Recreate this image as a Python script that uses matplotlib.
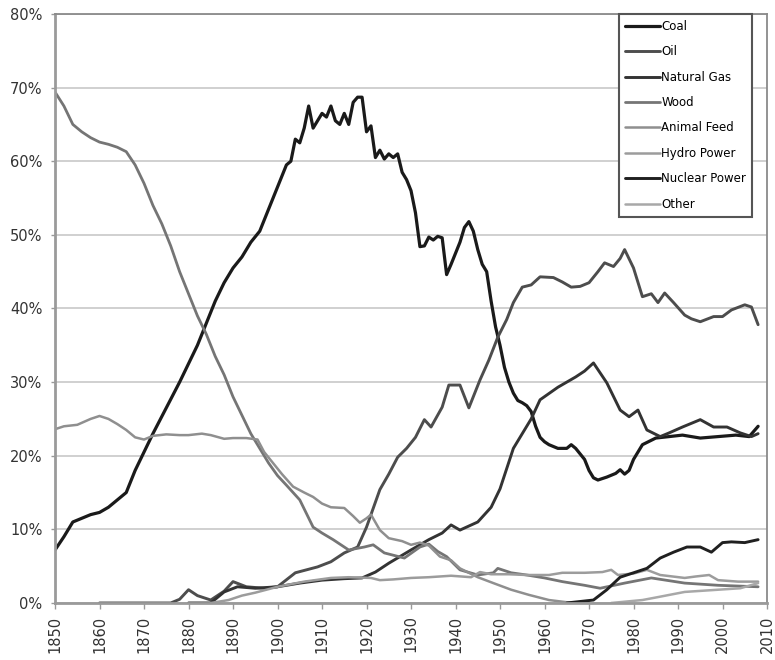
import numpy as np
import matplotlib
matplotlib.use("Agg")
import matplotlib.pyplot as plt
from matplotlib.ticker import FuncFormatter

# share of world primary energy, percent
coal_years = [1850, 1852, 1854, 1856, 1858, 1860, 1862, 1864, 1866, 1868, 1870, 1872, 1875, 1878,
              1880, 1882, 1884, 1886, 1888, 1890, 1892, 1894, 1896, 1898, 1900, 1902, 1903, 1904,
              1905, 1906, 1907, 1908, 1909, 1910, 1911, 1912, 1913, 1914, 1915, 1916, 1917, 1918,
              1919, 1920, 1921, 1922, 1923, 1924, 1925, 1926, 1927, 1928, 1929, 1930, 1931, 1932,
              1933, 1934, 1935, 1936, 1937, 1938, 1939, 1940, 1941, 1942, 1943, 1944, 1945, 1946,
              1947, 1948, 1949, 1950, 1951, 1952, 1953, 1954, 1955, 1956, 1957, 1958, 1959, 1960,
              1961, 1963, 1965, 1966, 1967, 1969, 1970, 1971, 1972, 1974, 1976, 1977, 1978, 1979,
              1980, 1982, 1985, 1988, 1991, 1995, 1999, 2003, 2006, 2008]
coal = [7.2, 9.0, 11.0, 11.5, 12.0, 12.3, 13.0, 14.0, 15.0, 18.0, 20.5, 23.0, 26.5, 30.0,
        32.5, 35.0, 38.0, 41.0, 43.5, 45.5, 47.0, 49.0, 50.5, 53.5, 56.5, 59.5, 60.0, 63.0,
        62.5, 64.5, 67.5, 64.5, 65.5, 66.5, 66.0, 67.5, 65.5, 65.0, 66.5, 65.0, 68.0, 68.7,
        68.7, 64.0, 64.8, 60.5, 61.5, 60.3, 61.0, 60.5, 61.0, 58.5, 57.5, 56.0, 53.0, 48.4,
        48.5, 49.7, 49.3, 49.8, 49.6, 44.6, 46.0, 47.5, 49.0, 51.0, 51.8, 50.5, 48.0, 46.0,
        45.0, 41.0, 37.5, 35.0, 32.0, 30.0, 28.5, 27.5, 27.2, 26.8, 26.0, 24.0, 22.5, 21.9,
        21.5, 21.0, 21.0, 21.5, 21.0, 19.5, 18.0, 17.0, 16.7, 17.1, 17.6, 18.1, 17.5, 18.0,
        19.5, 21.5, 22.4, 22.6, 22.8, 22.4, 22.6, 22.8, 22.6, 24.0]

oil_years = [1860, 1876, 1878, 1880, 1882, 1885, 1888, 1890, 1893, 1897, 1900, 1904, 1909, 1912,
             1915, 1918, 1920, 1921, 1923, 1925, 1927, 1929, 1931, 1933, 1934.5, 1937, 1938.5,
             1941, 1943, 1945.5, 1947.5, 1949.5, 1951.5, 1953, 1955, 1957, 1959, 1962, 1964,
             1966, 1968, 1970, 1972, 1973.5, 1975.5, 1977, 1978, 1980, 1982, 1984, 1985.5,
             1987, 1989, 1991.5, 1993, 1995, 1998, 2000, 2002, 2005, 2006.5, 2008]
oil = [0.0, 0.0, 0.5, 1.8, 1.0, 0.4, 1.6, 2.9, 2.2, 2.0, 2.2, 4.1, 4.9, 5.6,
       6.8, 7.6, 10.3, 12.0, 15.4, 17.5, 19.8, 21.0, 22.5, 24.9, 23.9, 26.6, 29.6,
       29.6, 26.5, 30.3, 33.0, 36.1, 38.5, 40.8, 42.9, 43.2, 44.3, 44.2, 43.6,
       42.9, 43.0, 43.5, 45.0, 46.2, 45.7, 46.8, 48.0, 45.5, 41.6, 42.0, 40.8,
       42.1, 40.8, 39.1, 38.6, 38.2, 38.9, 38.9, 39.8, 40.5, 40.2, 37.8]

gas_years = [1880, 1885, 1888, 1891, 1895, 1900, 1905, 1910, 1915, 1919, 1922, 1925, 1930, 1934,
             1937, 1939, 1941, 1945, 1948, 1950, 1953, 1957, 1959, 1963, 1967, 1969, 1971,
             1974, 1977, 1979, 1981, 1983, 1986, 1988, 1991, 1995, 1998, 2001, 2004, 2006.5,
             2008]
gas = [0.0, 0.0, 1.5, 2.2, 2.0, 2.2, 2.7, 3.1, 3.3, 3.4, 4.2, 5.4, 7.2, 8.6,
       9.5, 10.6, 9.9, 11.0, 13.0, 15.5, 21.0, 25.0, 27.6, 29.3, 30.7, 31.5, 32.6,
       29.9, 26.2, 25.3, 26.2, 23.5, 22.6, 23.1, 23.9, 24.9, 23.9, 23.9, 23.1, 22.6,
       23.0]

wood_years = [1850, 1852, 1854, 1856, 1858, 1860, 1862, 1864, 1866, 1868, 1870, 1872, 1874, 1876,
              1878, 1880, 1882, 1884, 1886, 1888, 1890, 1892, 1894, 1896, 1898, 1900, 1902,
              1905, 1908, 1910, 1912.5, 1916, 1919.5, 1921.5, 1924, 1928.5, 1932, 1934, 1936,
              1938, 1941, 1945, 1948.5, 1949.5, 1952.5, 1956, 1960, 1964, 1969, 1972.5, 1978,
              1984, 1991.5, 1999, 2008]
wood = [69.4, 67.5, 65.0, 64.0, 63.2, 62.6, 62.3, 61.9, 61.3, 59.5, 57.0, 54.0, 51.5, 48.5,
        45.0, 42.0, 39.0, 36.5, 33.5, 31.0, 28.0, 25.5, 23.0, 21.0, 19.0, 17.3, 16.0,
        14.0, 10.3, 9.5, 8.6, 7.2, 7.6, 7.9, 6.8, 6.1, 7.6, 8.0, 7.0,
        6.3, 4.5, 3.8, 4.1, 4.7, 4.1, 3.8, 3.4, 2.9, 2.4, 2.0, 2.7,
        3.4, 2.7, 2.4, 2.2]

feed_years = [1850, 1852, 1855, 1858, 1860, 1862, 1864, 1866, 1868, 1870, 1872, 1875, 1878, 1880,
              1883, 1885, 1888, 1890, 1893, 1895.5, 1897, 1899, 1901, 1903.5, 1906, 1908, 1910,
              1912, 1915, 1917, 1918.5, 1920, 1921, 1923, 1925, 1928, 1930, 1932, 1934, 1936.5,
              1939, 1941, 1945, 1948.5, 1952.5, 1956.5, 1961, 1965, 1970]
feed = [23.6, 24.0, 24.2, 25.0, 25.4, 25.0, 24.3, 23.5, 22.5, 22.2, 22.7, 22.9, 22.8, 22.8,
        23.0, 22.8, 22.3, 22.4, 22.4, 22.2, 20.5, 19.0, 17.5, 15.8, 15.0, 14.4, 13.5,
        13.0, 12.9, 11.8, 10.9, 11.5, 12.0, 9.9, 8.8, 8.4, 7.9, 8.2, 7.8, 6.3,
        5.8, 4.7, 3.5, 2.7, 1.8, 1.1, 0.4, 0.1, 0.0]

hydro_years = [1885, 1889, 1892, 1895, 1900, 1906, 1912, 1916, 1921, 1923, 1926, 1930, 1934, 1939,
               1943.5, 1945.5, 1948, 1952, 1956, 1961, 1964, 1969, 1973, 1975, 1976.5, 1980,
               1983, 1986, 1991.5, 1994, 1997, 1999, 2003.5, 2008]
hydro = [0.0, 0.4, 1.0, 1.4, 2.2, 2.9, 3.4, 3.5, 3.4, 3.1, 3.2, 3.4, 3.5, 3.7,
         3.5, 4.2, 3.9, 3.9, 3.8, 3.8, 4.1, 4.1, 4.2, 4.5, 3.8, 4.0,
         4.5, 3.8, 3.4, 3.6, 3.8, 3.1, 2.9, 2.9]

nuclear_years = [1965, 1971, 1974, 1977, 1980, 1983, 1986, 1989, 1992, 1995, 1997.5, 2000, 2002,
                 2005, 2008]
nuclear = [0.0, 0.4, 1.8, 3.5, 4.1, 4.7, 6.1, 6.9, 7.6, 7.6, 6.9, 8.2, 8.3, 8.2, 8.6]

other_years = [1975, 1982, 1985.5, 1991.5, 1999, 2004, 2008]
other = [0.0, 0.4, 0.8, 1.5, 1.8, 2.0, 2.7]

series = [
    ("Coal", coal_years, coal, "#1a1a1a", 2.3),
    ("Oil", oil_years, oil, "#4d4d4d", 2.1),
    ("Natural Gas", gas_years, gas, "#333333", 2.1),
    ("Wood", wood_years, wood, "#757575", 2.0),
    ("Animal Feed", feed_years, feed, "#8f8f8f", 1.8),
    ("Hydro Power", hydro_years, hydro, "#9c9c9c", 1.8),
    ("Nuclear Power", nuclear_years, nuclear, "#202020", 2.1),
    ("Other", other_years, other, "#a8a8a8", 1.8),
]

fig = plt.figure(figsize=(7.75, 6.6), dpi=100)
ax = fig.add_axes([0.071, 0.0864, 0.9187, 0.8924])

for name, yrs, vals, col, lw in series:
    ax.plot(yrs, np.array(vals) / 100, color=col, linewidth=lw, label=name,
            solid_joinstyle="round", solid_capstyle="round")

ax.set_xlim(1850, 2010)
ax.set_ylim(0, 0.8)
ax.set_xticks(np.arange(1850, 2011, 10))
ax.set_yticks(np.arange(0, 0.81, 0.1))
ax.yaxis.set_major_formatter(FuncFormatter(lambda v, p: "%d%%" % round(v * 100)))
ax.grid(axis="y", color="#c4c4c4", linewidth=1.1)
ax.set_axisbelow(True)

ax.tick_params(axis="x", rotation=90, labelsize=10.5, colors="#333333", length=4, width=1,
               pad=5, color="#999999")
ax.tick_params(axis="y", labelsize=10.5, colors="#333333", length=3, width=1, pad=6,
               color="#999999")
for s in ["left", "bottom"]:
    ax.spines[s].set_color("#9a9a9a")
    ax.spines[s].set_linewidth(2)
for s in ["top", "right"]:
    ax.spines[s].set_color("#8a8a8a")
    ax.spines[s].set_linewidth(1.3)

leg = ax.legend(loc="upper right", bbox_to_anchor=(0.979, 1.0), borderaxespad=0,
                fontsize=8.5, fancybox=False, framealpha=1, edgecolor="#555555",
                handlelength=2.9, handletextpad=0.15, labelspacing=1.05,
                borderpad=0.5)
leg.get_frame().set_linewidth(1.5)

fig.savefig("out.png", dpi=100)
